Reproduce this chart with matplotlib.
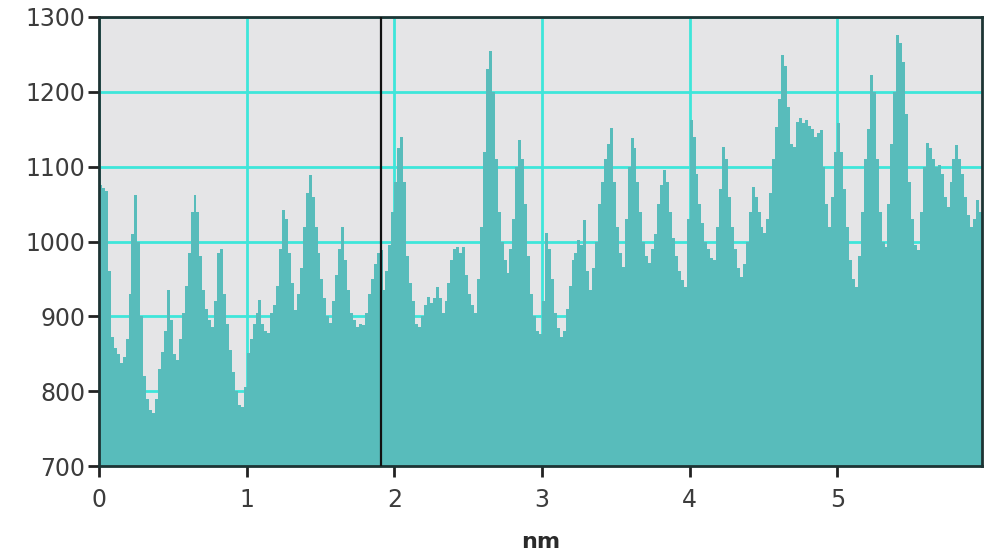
import numpy as np
import matplotlib
matplotlib.use('Agg')
import matplotlib.pyplot as plt

bin_width = 0.02
profile = [
    1075, 1072, 1068, 960, 872, 858, 850, 838, 845, 870,
    930, 1010, 1062, 1000, 900, 820, 790, 775, 771, 790,
    830, 852, 880, 935, 895, 850, 841, 870, 905, 940,
    985, 1040, 1062, 1040, 980, 935, 910, 895, 886, 920,
    985, 990, 930, 890, 855, 825, 800, 782, 779, 805,
    851, 870, 890, 905, 922, 890, 880, 878, 905, 915,
    940, 990, 1042, 1030, 985, 945, 908, 930, 965, 1020,
    1065, 1089, 1060, 1020, 985, 950, 925, 900, 891, 920,
    955, 990, 1019, 975, 935, 905, 895, 886, 890, 888,
    905, 930, 950, 970, 985, 989, 935, 960, 995, 1040,
    1080, 1125, 1140, 1080, 980, 945, 920, 890, 886, 900,
    915, 926, 918, 925, 939, 925, 904, 920, 945, 975,
    990, 993, 985, 993, 955, 930, 915, 904, 950, 1020,
    1120, 1230, 1255, 1200, 1110, 1040, 1000, 975, 958, 990,
    1030, 1100, 1136, 1110, 1050, 980, 930, 900, 880, 877,
    920, 1011, 990, 950, 905, 885, 872, 880, 910, 940,
    975, 985, 1002, 995, 1029, 960, 935, 965, 1000, 1050,
    1080, 1110, 1130, 1152, 1080, 1020, 985, 966, 1030, 1100,
    1138, 1125, 1080, 1040, 1000, 980, 971, 990, 1010, 1050,
    1075, 1096, 1080, 1040, 1005, 980, 960, 948, 939, 1030,
    1162, 1140, 1090, 1050, 1025, 1000, 990, 978, 975, 1020,
    1070, 1126, 1110, 1060, 1020, 990, 965, 952, 970, 1000,
    1040, 1073, 1060, 1040, 1020, 1011, 1030, 1065, 1110, 1153,
    1190, 1249, 1235, 1180, 1130, 1126, 1160, 1165, 1158, 1163,
    1155, 1150, 1140, 1145, 1149, 1100, 1050, 1019, 1060, 1120,
    1158, 1120, 1070, 1020, 975, 950, 939, 980, 1040, 1110,
    1150, 1222, 1200, 1110, 1040, 1000, 993, 1050, 1130, 1200,
    1276, 1265, 1240, 1170, 1080, 1030, 995, 989, 1040, 1100,
    1132, 1125, 1110, 1100, 1102, 1090, 1060, 1046, 1080, 1110,
    1129, 1110, 1090, 1060, 1035, 1019, 1030, 1055, 1040, 1060,
]
x_ticks = [0, 1, 2, 3, 4, 5]
y_ticks = [700, 800, 900, 1000, 1100, 1200, 1300]
marker_x = 1.91

edges = np.arange(len(profile) + 1) * bin_width

fig = plt.figure(figsize=(9.84, 5.56), dpi=100)
ax = fig.add_axes([99 / 984, 90 / 556, 883 / 984, 449 / 556])
ax.set_facecolor('#e5e5e7')

ax.stairs(profile, edges, baseline=700, fill=True, color='#58bcbb', zorder=2)
ax.axvline(marker_x, color='#111111', lw=1.6, zorder=3)

ax.set_xlim(0, 5.98)
ax.set_ylim(700, 1300)
ax.set_xticks(x_ticks)
ax.set_yticks(y_ticks)
ax.set_axisbelow(True)
ax.grid(True, color='#3ee6da', lw=2.0, zorder=1)

for s in ax.spines.values():
    s.set_color('#1d3434')
    s.set_linewidth(2.0)

ax.tick_params(axis='both', length=8, width=2, color='#222222',
               labelsize=17, labelcolor='#3c3c3c')
ax.tick_params(axis='y', pad=2)
ax.tick_params(axis='x', pad=8)
ax.set_xlabel('nm', fontsize=16, fontweight='bold', color='#2a2a2a', labelpad=14)

fig.savefig('out.png', dpi=100)
